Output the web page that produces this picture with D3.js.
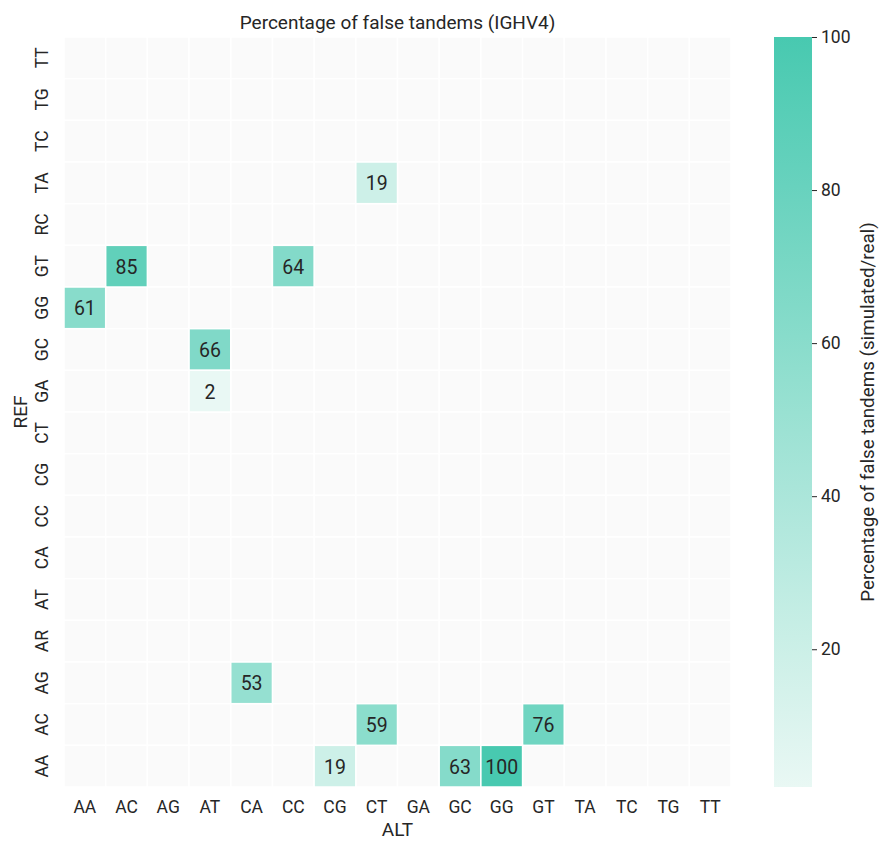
<!DOCTYPE html>
<html>
<head>
<meta charset="utf-8">
<script src="https://cdn.jsdelivr.net/npm/d3@7"></script>
<style>
  body { margin: 0; background: #fff; }
  text { font-family: Roboto, "Open Sans", sans-serif; fill: #262626; }
</style>
</head>
<body>
<svg id="chart" width="881" height="843"></svg>
<script>
const altCategories = ["AA","AC","AG","AT","CA","CC","CG","CT","GA","GC","GG","GT","TA","TC","TG","TT"];
const refCategories = ["TT","TG","TC","TA","RC","GT","GG","GC","GA","CT","CG","CC","CA","AT","AR","AG","AC","AA"];
const cellRef = ["TA","GT","GT","GG","GC","GA","AG","AC","AC","AA","AA","AA"];
const cellAlt = ["CT","AC","CC","AA","AT","AT","CA","CT","GT","CG","GC","GG"];
const cellValue = [19,85,64,61,66,2,53,59,76,19,63,100];
const colorbarTicks = [20,40,60,80,100];
const titleText = "Percentage of false tandems (IGHV4)";
const xLabel = "ALT", yLabel = "REF";
const cbLabel = "Percentage of false tandems (simulated/real)";

(function () {
const svg = d3.select("#chart");
const pLeft = 64, pRight = 731, pTop = 37, pBottom = 787;

const x = d3.scaleBand().domain(altCategories).range([pLeft, pRight]);
const y = d3.scaleBand().domain(refCategories).range([pTop, pBottom]);
const vmin = d3.min(cellValue), vmax = d3.max(cellValue);
const color = d3.scaleLinear().domain([vmin, vmax]).range(["#e9f8f4", "#48c9b0"]).interpolate(d3.interpolateRgb);

const g = svg.append("g");
refCategories.forEach(r => {
  altCategories.forEach(a => {
    g.append("rect").attr("x", x(a)).attr("y", y(r))
      .attr("width", x.bandwidth()).attr("height", y.bandwidth())
      .attr("fill", "#fafafa").attr("stroke", "#ffffff").attr("stroke-width", 1.5);
  });
});

const cells = cellValue.map((v, i) => ({ref: cellRef[i], alt: cellAlt[i], v}));
g.selectAll(".cell").data(cells).enter().append("rect")
  .attr("x", d => x(d.alt)).attr("y", d => y(d.ref))
  .attr("width", x.bandwidth()).attr("height", y.bandwidth())
  .attr("fill", d => color(d.v)).attr("stroke", "#ffffff").attr("stroke-width", 1.5);

g.selectAll(".ann").data(cells).enter().append("text")
  .attr("x", d => x(d.alt) + x.bandwidth()/2).attr("y", d => y(d.ref) + y.bandwidth()/2 + 1)
  .attr("text-anchor", "middle").attr("dominant-baseline", "central")
  .attr("font-size", 19.5).text(d => d.v);

svg.selectAll(".xt").data(altCategories).enter().append("text")
  .attr("x", d => x(d) + x.bandwidth()/2).attr("y", pBottom + 20)
  .attr("text-anchor", "middle").attr("dominant-baseline", "central")
  .attr("font-size", 17.5).text(d => d);

svg.selectAll(".yt").data(refCategories).enter().append("text")
  .attr("transform", d => `translate(${pLeft - 22},${y(d) + y.bandwidth()/2}) rotate(-90)`)
  .attr("text-anchor", "middle").attr("dominant-baseline", "central")
  .attr("font-size", 17.5).text(d => d);

svg.append("text").attr("x", (pLeft + pRight)/2).attr("y", 829)
  .attr("text-anchor", "middle").attr("dominant-baseline", "central")
  .attr("font-size", 19).text(xLabel);
svg.append("text").attr("transform", `translate(20,${(pTop + pBottom)/2}) rotate(-90)`)
  .attr("text-anchor", "middle").attr("dominant-baseline", "central")
  .attr("font-size", 19).text(yLabel);
svg.append("text").attr("x", (pLeft + pRight)/2).attr("y", 22)
  .attr("text-anchor", "middle").attr("dominant-baseline", "central")
  .attr("font-size", 19).text(titleText);

const cbX = 774, cbW = 38;
const cbScale = d3.scaleLinear().domain([vmin, vmax]).range([pBottom, pTop]);
const defs = svg.append("defs");
const grad = defs.append("linearGradient").attr("id", "cbgrad")
  .attr("x1", 0).attr("y1", 1).attr("x2", 0).attr("y2", 0);
d3.range(0, 1.0001, 0.1).forEach(t => {
  grad.append("stop").attr("offset", t).attr("stop-color", color(vmin + t*(vmax - vmin)));
});
svg.append("rect").attr("x", cbX).attr("y", pTop).attr("width", cbW).attr("height", pBottom - pTop)
  .attr("fill", "url(#cbgrad)");

const cbAxis = d3.axisRight(cbScale).tickValues(colorbarTicks).tickSize(5).tickPadding(4);
const cbG = svg.append("g").attr("transform", `translate(${cbX + cbW},0)`).call(cbAxis);
cbG.select(".domain").remove();
cbG.selectAll("line").attr("stroke", "#262626").attr("stroke-width", 1);
cbG.selectAll("text").attr("font-size", 17.5).attr("font-family", "Roboto, sans-serif").attr("fill", "#262626");

svg.append("text").attr("transform", `translate(868,${(pTop + pBottom)/2}) rotate(-90)`)
  .attr("text-anchor", "middle").attr("dominant-baseline", "central")
  .attr("font-size", 18.8).text(cbLabel);
})();
</script>
</body>
</html>
